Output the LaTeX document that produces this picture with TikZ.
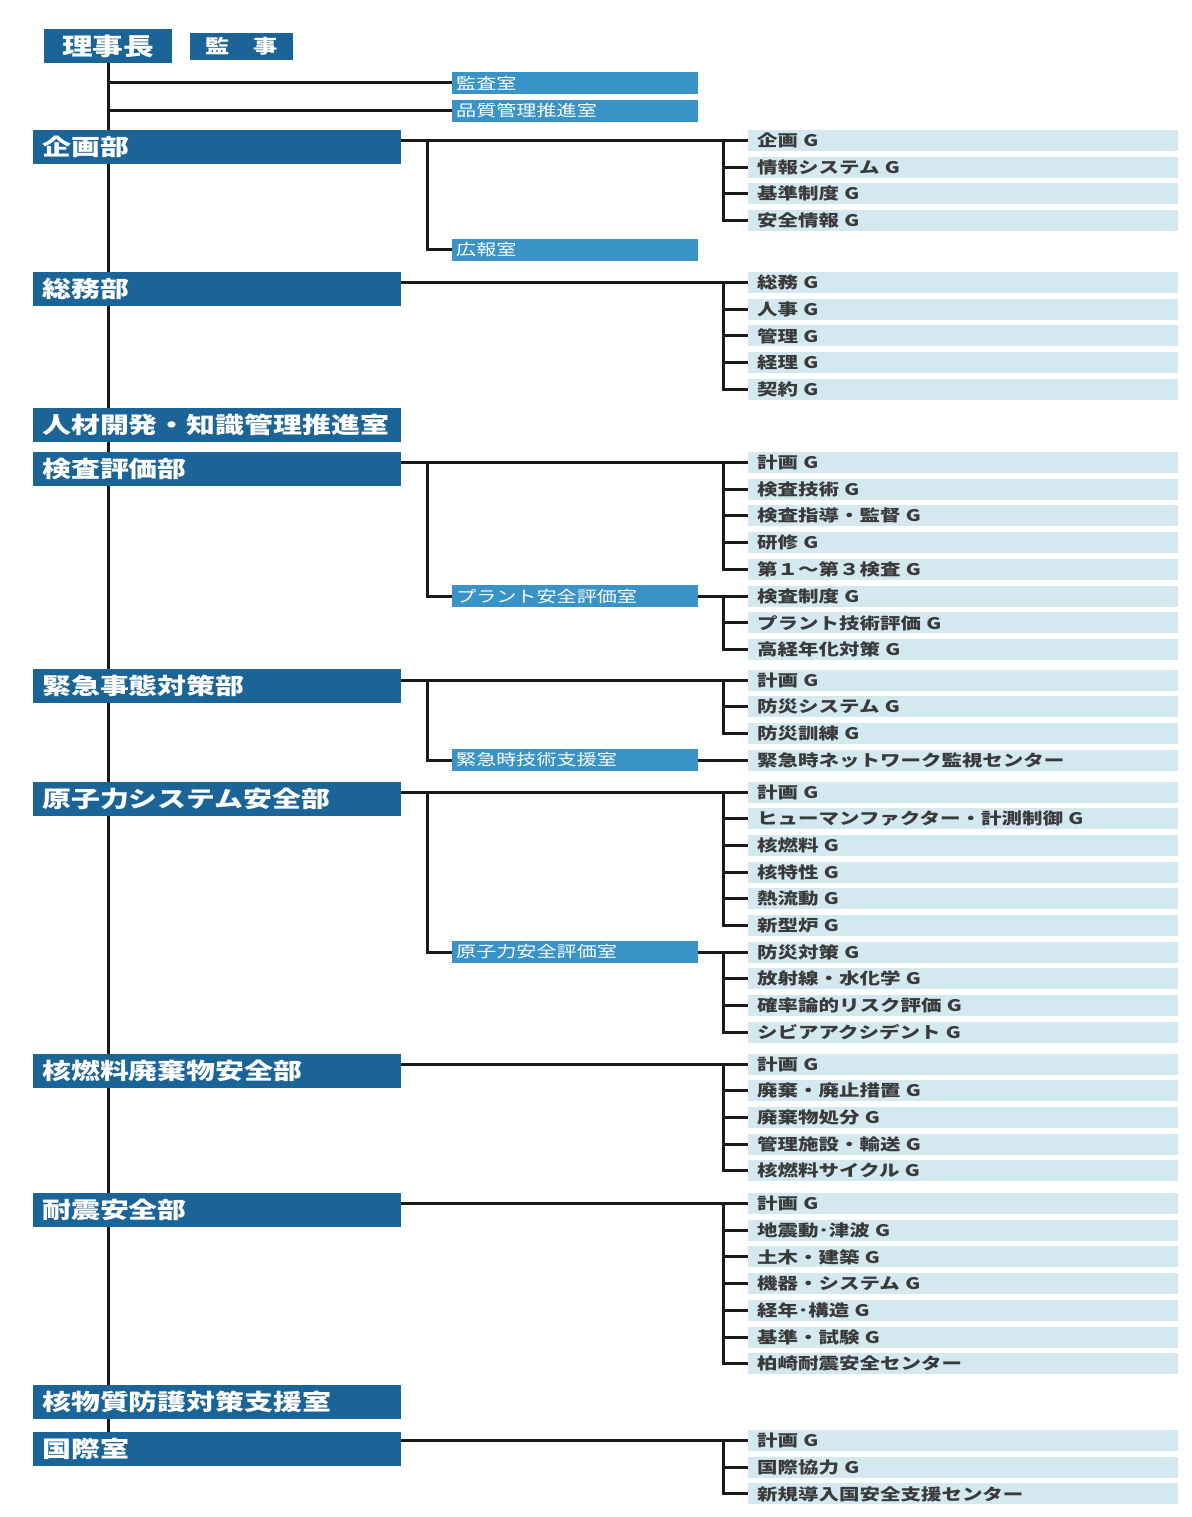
\documentclass[tikz,border=0pt]{standalone}
\usepackage{fontspec}
\newfontfamily\jp{Noto Sans CJK JP}[FakeStretch=1.28]
\usetikzlibrary{backgrounds}
\definecolor{deptblue}{HTML}{1B6497}
\definecolor{midblue}{HTML}{3A93C7}
\definecolor{lightblue}{HTML}{D3E9EF}
\definecolor{grptext}{HTML}{3A3A3A}
\definecolor{linecol}{HTML}{1A1A1A}
\tikzset{
  dept/.style={fill=deptblue, text=white, font=\jp\bfseries\fontsize{22.6}{22.6}\selectfont,
    anchor=west, minimum height=34, text width=350, inner xsep=9, inner ysep=0, align=left},
  office/.style={fill=midblue, text=white, font=\jp\fontsize{15.7}{15.7}\selectfont,
    anchor=west, minimum height=22, text width=238, inner xsep=4, inner ysep=0, align=left},
  grp/.style={fill=lightblue, text=grptext, font=\jp\bfseries\fontsize{16}{16}\selectfont,
    anchor=west, minimum height=21, text width=412, inner xsep=9, inner ysep=0, align=left},
  topbox/.style={fill=deptblue, text=white, anchor=north west, inner sep=0},
  conn/.style={draw=linecol, line width=3},
}
\newcommand\gstack[3]{\foreach \t [count=\i] in {#3}{\node[grp] (#1\i) at (748,{#2+(\i-1)*26.7}) {\t};}}
\newcommand\gbracket[2]{%
  \draw[conn] ([xshift=-25pt]#11.west) |- (#1#2.west);
  \foreach \i in {1,...,#2}{\draw[conn] ([xshift=-25pt]#1\i.west) -- (#1\i.west);}}
\begin{document}
\begin{tikzpicture}[x=1pt,y=-1pt]
\useasboundingbox (0,0) rectangle (1191,1517);
% top
\node[topbox, minimum width=128, minimum height=34, font=\jp\bfseries\fontsize{24}{24}\selectfont] (chair) at (44,29) {理事長};
\node[topbox, minimum width=103, minimum height=27, font=\jp\bfseries\fontsize{19}{19}\selectfont] (auditor) at (190,33) {監　事};
% offices under chair
\node[office] (audit) at (452,83) {監査室};
\node[office] (qm) at (452,111) {品質管理推進室};
% departments
\node[dept] (plan) at (33,147) {企画部};
\node[dept] (gen) at (33,289) {総務部};
\node[dept] (hrd) at (33,424.5) {人材開発・知識管理推進室};
\node[dept] (insp) at (33,469) {検査評価部};
\node[dept] (emer) at (33,686) {緊急事態対策部};
\node[dept] (nss) at (33,799) {原子力システム安全部};
\node[dept] (fuel) at (33,1070.5) {核燃料廃棄物安全部};
\node[dept] (seis) at (33,1210) {耐震安全部};
\node[dept] (nmp) at (33,1402) {核物質防護対策支援室};
\node[dept] (intl) at (33,1449) {国際室};
% sub offices
\node[office] (pr) at (452,249.5) {広報室};
\node[office] (plant) at (452,596.2) {プラント安全評価室};
\node[office] (etso) at (452,760) {緊急時技術支援室};
\node[office] (nsa) at (452,952) {原子力安全評価室};
% groups
\gstack{pg}{140.5}{企画 G,情報システム G,基準制度 G,安全情報 G}
\gstack{gg}{282.5}{総務 G,人事 G,管理 G,経理 G,契約 G}
\gstack{ig}{462.5}{計画 G,検査技術 G,検査指導・監督 G,研修 G,第１〜第３検査 G}
\gstack{pl}{596.2}{検査制度 G,プラント技術評価 G,高経年化対策 G}
\gstack{eg}{680}{計画 G,防災システム G,防災訓練 G}
\gstack{et}{760}{緊急時ネットワーク監視センター}
\gstack{ng}{792}{計画 G,ヒューマンファクター・計測制御 G,核燃料 G,核特性 G,熱流動 G,新型炉 G}
\gstack{na}{952}{防災対策 G,放射線・水化学 G,確率論的リスク評価 G,シビアアクシデント G}
\gstack{fg}{1064}{計画 G,廃棄・廃止措置 G,廃棄物処分 G,管理施設・輸送 G,核燃料サイクル G}
\gstack{sg}{1203.5}{計画 G,地震動･津波 G,土木・建築 G,機器・システム G,経年･構造 G,基準・試験 G,柏崎耐震安全センター}
\gstack{xg}{1440.5}{計画 G,国際協力 G,新規導入国安全支援センター}
% connectors
\begin{scope}[on background layer]
\draw[conn] (chair.south) -- (chair.south |- intl.north);
\draw[conn] (chair.south |- audit.west) -- (audit.west);
\draw[conn] (chair.south |- qm.west) -- (qm.west);
% department -> groups
\draw[conn] (plan.east |- pg1.west) -- (pg1.west);
\gbracket{pg}{4}
\draw[conn] (gen.east |- gg1.west) -- (gg1.west);
\gbracket{gg}{5}
\draw[conn] (insp.east |- ig1.west) -- (ig1.west);
\gbracket{ig}{5}
\draw[conn] (emer.east |- eg1.west) -- (eg1.west);
\gbracket{eg}{3}
\draw[conn] (nss.east |- ng1.west) -- (ng1.west);
\gbracket{ng}{6}
\draw[conn] (fuel.east |- fg1.west) -- (fg1.west);
\gbracket{fg}{5}
\draw[conn] (seis.east |- sg1.west) -- (sg1.west);
\gbracket{sg}{7}
\draw[conn] (intl.east |- xg1.west) -- (xg1.west);
\gbracket{xg}{3}
% department -> sub offices
\coordinate (plbr) at ([xshift=26pt]plan.east |- pg1.west);
\draw[conn] (plbr) |- (pr.west);
\coordinate (inbr) at ([xshift=26pt]insp.east |- ig1.west);
\draw[conn] (inbr) |- (plant.west);
\coordinate (embr) at ([xshift=26pt]emer.east |- eg1.west);
\draw[conn] (embr) |- (etso.west);
\coordinate (nsbr) at ([xshift=26pt]nss.east |- ng1.west);
\draw[conn] (nsbr) |- (nsa.west);
% sub offices -> groups
\draw[conn] (plant.east) -- (pl1.west);
\gbracket{pl}{3}
\draw[conn] (etso.east) -- (et1.west);
\draw[conn] (nsa.east) -- (na1.west);
\gbracket{na}{4}
\end{scope}
\end{tikzpicture}
\end{document}
